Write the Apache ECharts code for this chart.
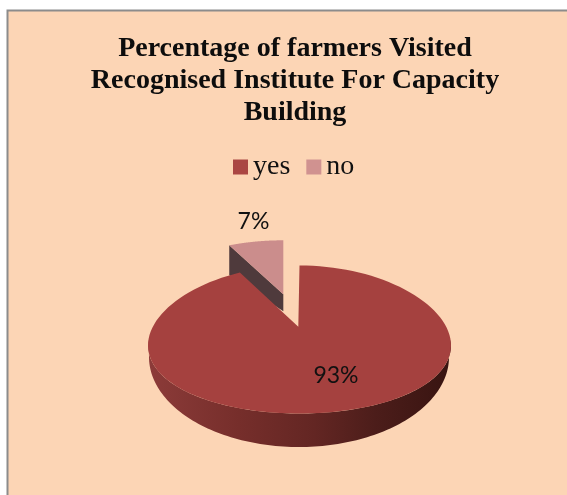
<!DOCTYPE html>
<html>
<head>
<meta charset="utf-8">
<style>html,body{margin:0;padding:0;background:#fff}#c{width:567px;height:495px}</style>
<script src="https://cdn.jsdelivr.net/npm/echarts@6/dist/echarts.min.js"></script>
</head>
<body>
<div id="c"></div>
<script>
var categories = ['yes', 'no'];
var yesValues = [93];
var noValues = [7];
var titleLines = ['Percentage of farmers Visited', 'Recognised Institute For Capacity', 'Building'];

var total = yesValues[0] + noValues[0];
var noSweep = noValues[0] / total * Math.PI * 2;
var CX = 299.5, CY = 339.5, RX = 151, RY = 74, PERSP = 0.08;
var APEX = [298.3, 326.7];

function arc(cx, cy, rx, ry, a0, a1, k) {
  var pts = [], n = 120;
  for (var i = 0; i <= n; i++) {
    var t = a0 + (a1 - a0) * i / n;
    pts.push([cx + rx * Math.sin(t) * (1 - k * Math.cos(t)), cy - ry * Math.cos(t)]);
  }
  return pts;
}
var chart = echarts.init(document.getElementById('c'), null, {renderer: 'canvas'});

function renderYes(params, api) {
  var sweep = api.value(0) / total * Math.PI * 2;
  var wallTop = arc(CX, CY, RX, RY, Math.PI / 2, Math.PI * 1.5, PERSP);
  var wallBottom = arc(CX - 0.5, 357, 150, 90, Math.PI * 1.5, Math.PI / 2, 0);
  var face = [APEX].concat(arc(CX, CY, RX, RY, 0, sweep, PERSP));
  return {
    type: 'group',
    children: [
      {type: 'polygon', shape: {points: wallTop.concat(wallBottom)},
        style: {fill: new echarts.graphic.LinearGradient(0, 0, 1, 0, [
          {offset: 0, color: '#8c3b39'},
          {offset: 0.3, color: '#762e2b'},
          {offset: 0.55, color: '#632623'},
          {offset: 0.75, color: '#4c1d1a'},
          {offset: 1, color: '#381411'}
        ])}},
      {type: 'polygon', shape: {points: face}, style: {fill: '#a5413f'}},
      {type: 'text', x: 336, y: 376, style: {
        text: api.value(0) + '%', fill: '#111', font: '23px Lato',
        align: 'center', verticalAlign: 'middle'}}
    ]
  };
}
function renderNo(params, api) {
  var ax = 283.3, ay = 294.3;
  var a = arc(ax, ay - 1, 127, 53, Math.PI * 2 - noSweep, Math.PI * 2, 0);
  var first = a[0];
  return {
    type: 'group',
    children: [
      {type: 'polygon', shape: {points: [first, [ax, ay], [ax, ay + 17], [first[0], first[1] + 30]]},
        style: {fill: '#4f3a3c'}},
      {type: 'polygon', shape: {points: [[ax, ay]].concat(a)}, style: {fill: '#cb8d8c'}},
      {type: 'text', x: 253.5, y: 222, style: {
        text: api.value(0) + '%', fill: '#111', font: '23px Lato',
        align: 'center', verticalAlign: 'middle'}}
    ]
  };
}
chart.setOption({
  animation: false,
  backgroundColor: '#fff',
  graphic: [{
    type: 'rect', z: -10, silent: true,
    shape: {x: 7.5, y: 10.5, width: 600, height: 520},
    style: {fill: '#fcd5b5', stroke: '#8c8c8c', lineWidth: 2}
  }],
  title: {
    text: titleLines.join('\n'), left: 290, top: 27.5, textAlign: 'center',
    textStyle: {fontFamily: 'Liberation Serif', fontWeight: 'bold', fontSize: 28, lineHeight: 32, color: '#0d0d0d'}
  },
  legend: {
    data: categories, left: 233, top: 153, padding: 0, icon: 'rect', itemWidth: 15, itemHeight: 15, itemGap: 16,
    textStyle: {fontFamily: 'Liberation Serif', fontSize: 28, lineHeight: 15, color: '#111'}
  },
  series: [
    {type: 'custom', name: categories[0], coordinateSystem: 'none', z: 3, itemStyle: {color: '#aa4643'}, data: [yesValues], renderItem: renderYes},
    {type: 'custom', name: categories[1], coordinateSystem: 'none', z: 2, itemStyle: {color: '#d09290'}, data: [noValues], renderItem: renderNo}
  ]
});
</script>
</body>
</html>
